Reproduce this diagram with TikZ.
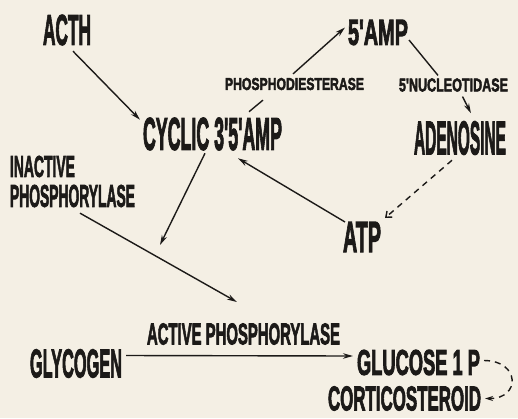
\documentclass[tikz,border=0pt]{standalone}
\usepackage{fontspec}
\newfontfamily\lett[FakeBold=3]{Liberation Sans}
\usetikzlibrary{arrows.meta}
\definecolor{bg}{HTML}{F4EFE4}
\definecolor{ink}{HTML}{1C1A18}
\newcommand\lbl[3]{\resizebox{#1pt}{#2pt}{\lett\bfseries #3}}
\begin{document}
\begin{tikzpicture}[x=1pt,y=-1pt,
  lab/.style={inner sep=0pt, outer sep=0pt, text=ink},
  conn/.style={draw=ink, line width=1.4pt},
  arr/.style={conn, -{Stealth[length=10pt,width=5.5pt]}},
  dasharr/.style={conn, dash pattern=on 6pt off 5pt, -{Stealth[length=8pt,width=5pt]}},
  barbarr/.style={conn, dash pattern=on 6pt off 5pt, -{Straight Barb[length=5pt,width=8pt]}}]
\fill[bg] (0,0) rectangle (518,418);
\useasboundingbox (0,0) rectangle (518,418);

\node[lab] (acth)  at (67,30)    {\lbl{48}{30}{ACTH}};
\node[lab] (amp)   at (378,32.5) {\lbl{60}{25}{5'AMP}};
\node[lab] (pd)    at (294.5,84) {\lbl{139}{12}{PHOSPHODIESTERASE}};
\node[lab] (nuc)   at (453.5,85) {\lbl{109}{13}{5'NUCLEOTIDASE}};
\node[lab] (cyc)   at (212.5,134){\lbl{139}{32}{CYCLIC 3'5'AMP}};
\node[lab] (aden)  at (460,138)  {\lbl{92}{33}{ADENOSINE}};
\node[lab] (inact1) at (42.5,166.5) {\lbl{65}{21}{INACTIVE}};
\node[lab] (inact2) at (72.5,196) {\lbl{125}{22}{PHOSPHORYLASE}};
\node[lab] (atp)   at (362,237)  {\lbl{38}{30}{ATP}};
\node[lab] (act)   at (243.5,334) {\lbl{193}{21}{ACTIVE PHOSPHORYLASE}};
\node[lab] (glyc)  at (76,363.5)   {\lbl{92}{28}{GLYCOGEN}};
\node[lab] (gluc)  at (418.5,362.5) {\lbl{123}{25}{GLUCOSE 1 P}};
\node[lab] (cort)  at (404.5,398.5) {\lbl{153}{24}{CORTICOSTEROID}};

\coordinate (downtip) at (160,245);
\coordinate (inacttip) at (237,302);

\draw[arr] ([shift={(6,6)}]acth.south) -- ([shift={(-3,2)}]cyc.north west);
\draw[conn] ([shift={(36.5,-6)}]cyc.north) -- ([shift={(-31.5,10)}]pd.south);
\draw[arr] ([shift={(-1.5,-4)}]pd.north) -- ([shift={(-3,-5)}]amp.west);
\draw[conn] ([shift={(1,7.5)}]amp.east) -- ([shift={(-15.5,-3)}]nuc.north);
\draw[arr] ([shift={(9,5)}]nuc.south) -- ([shift={(11,-8)}]aden.north);
\draw[barbarr] ([shift={(-8,5.5)}]aden.south) -- ([shift={(4,-4)}]atp.north east);
\draw[arr] ([shift={(2,0)}]atp.north west) -- ([shift={(25.5,8)}]cyc.south);
\draw[arr] ([shift={(-7.5,3)}]cyc.south) -- (downtip);
\draw[arr] ([shift={(7.5,6)}]inact2.south) -- (inacttip);
\draw[arr] ([shift={(4,-8)}]glyc.east) -- ([shift={(-4,-6.5)}]gluc.west);
\draw[dasharr] ([shift={(4,-2)}]gluc.east) .. controls +(36,0) and +(36,0) .. ([shift={(4,0)}]cort.east);
\end{tikzpicture}
\end{document}
